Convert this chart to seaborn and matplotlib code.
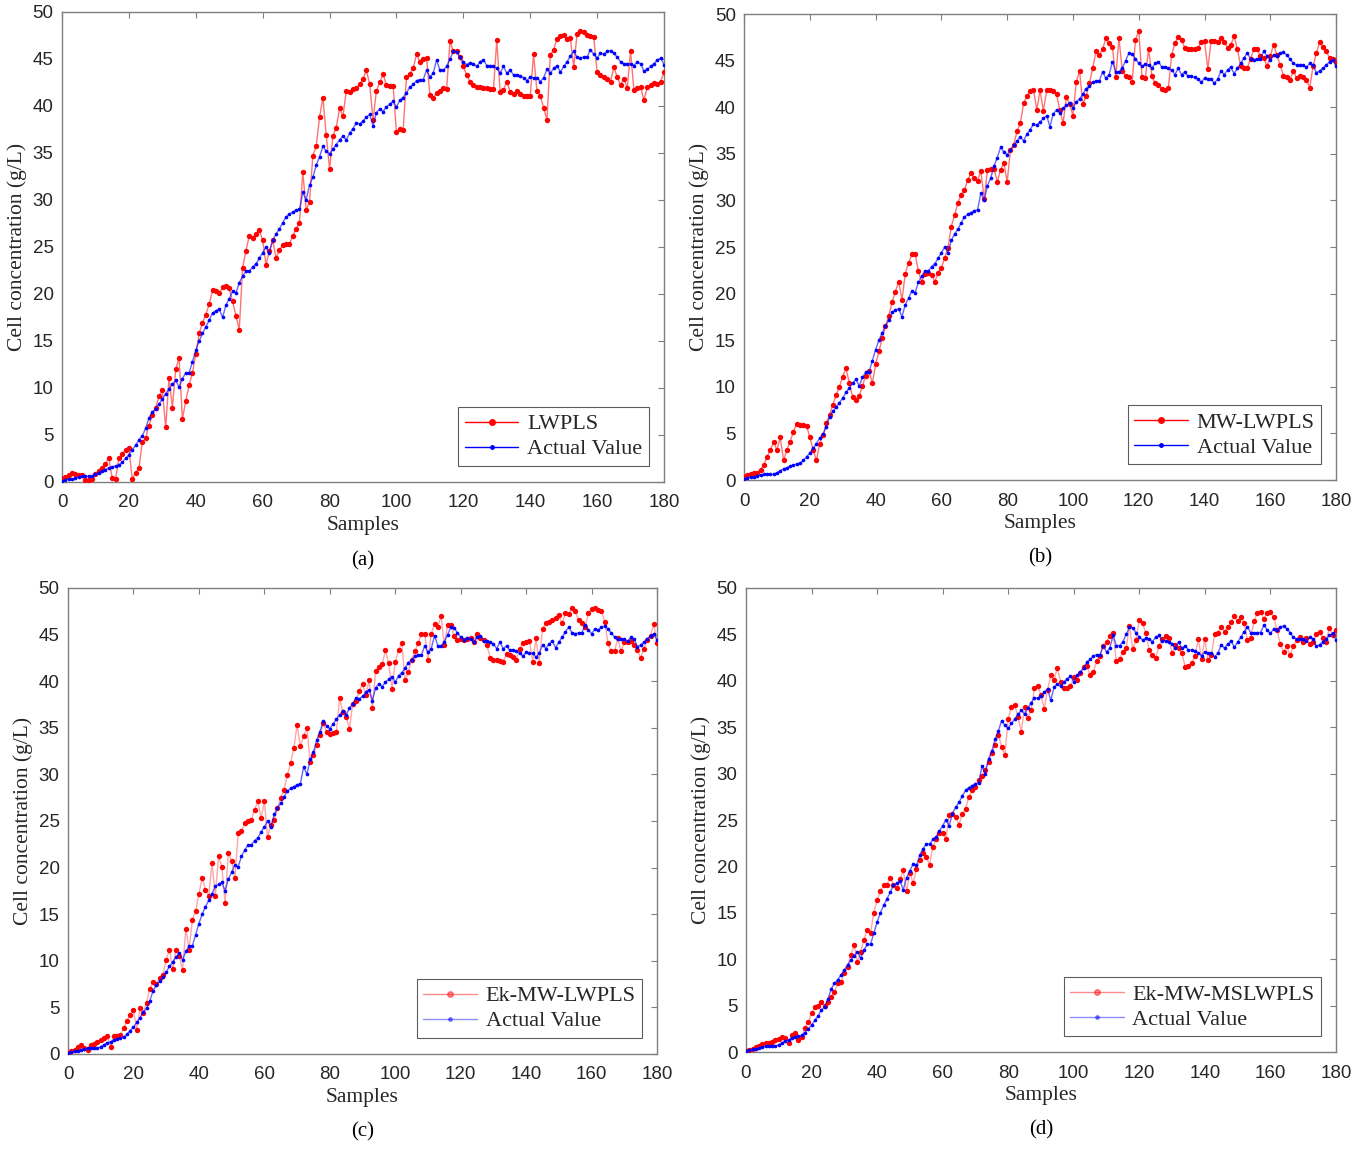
import numpy as np
import pandas as pd
import matplotlib
matplotlib.use("Agg")
import matplotlib.pyplot as plt
from matplotlib.lines import Line2D
import seaborn as sns

# Measured cell concentration (g/L), samples 0..180
actual = [
    0.1, 0.2, 0.3, 0.3, 0.4, 0.5, 0.6, 0.6, 0.6, 0.6,
    0.8, 1.0, 1.2, 1.3, 1.5, 1.6, 1.7, 1.8, 2.1, 2.5,
    2.9, 3.4, 3.9, 4.5, 4.9, 5.7, 6.8, 7.4, 7.8, 8.3,
    8.8, 9.4, 9.9, 10.4, 10.8, 10.1, 11.0, 11.6, 11.6, 12.8,
    14.0, 15.0, 15.8, 16.5, 17.2, 18.0, 18.2, 18.4, 17.5, 18.8,
    19.5, 20.3, 20.1, 21.2, 21.9, 22.4, 22.4, 22.9, 23.2, 23.8,
    24.4, 25.0, 24.4, 25.7, 26.4, 26.9, 27.6, 28.2, 28.5, 28.7,
    28.9, 29.0, 30.8, 30.0, 31.6, 32.4, 33.7, 34.6, 35.7, 35.2,
    34.9, 35.4, 35.9, 36.4, 36.8, 36.4, 37.1, 37.6, 38.2, 38.1,
    38.4, 38.8, 39.1, 37.9, 39.3, 39.7, 39.4, 39.9, 40.2, 40.5,
    39.9, 40.6, 40.9, 41.4, 42.0, 42.3, 42.7, 42.8, 42.8, 43.8,
    43.1, 43.5, 44.9, 43.8, 43.8, 44.2, 45.0, 45.8, 45.7, 45.2,
    44.7, 44.4, 44.6, 44.5, 44.2, 44.7, 44.9, 44.3, 44.3, 44.2,
    44.0, 43.5, 44.2, 43.5, 43.8, 43.3, 43.3, 43.2, 43.0, 42.7,
    43.1, 43.0, 43.0, 42.6, 43.0, 43.9, 43.5, 44.0, 44.3, 43.6,
    44.2, 44.7, 45.3, 45.8, 45.2, 45.1, 45.2, 45.2, 46.0, 45.5,
    45.1, 45.6, 45.5, 45.8, 45.9, 45.6, 45.2, 44.7, 44.5, 44.5,
    44.5, 44.3, 44.7, 44.5, 43.7, 43.9, 44.2, 44.5, 44.9, 45.1,
    44.4,
]

# LWPLS predictions
pred_lwpls = [
    0.3, 0.5, 0.7, 1.0, 0.8, 0.7, 0.7, 0.2, 0.2, 0.3,
    0.9, 1.2, 1.5, 1.9, 2.6, 0.4, 0.3, 2.5, 3.0, 3.4,
    3.6, 0.3, 1.0, 1.5, 4.2, 4.7, 6.0, 7.1, 7.9, 9.1,
    9.8, 5.8, 11.1, 7.9, 12.0, 13.2, 6.7, 8.6, 10.3, 11.6,
    13.6, 15.8, 16.9, 17.8, 18.9, 20.4, 20.3, 20.1, 20.7, 20.9,
    20.6, 19.2, 17.7, 16.2, 22.8, 24.6, 26.2, 26.0, 26.4, 26.8,
    25.7, 23.1, 24.6, 25.7, 23.8, 24.7, 25.2, 25.3, 25.3, 26.2,
    26.9, 27.6, 33.0, 28.9, 29.8, 34.7, 35.7, 38.8, 40.9, 36.9,
    33.3, 36.8, 37.7, 39.8, 38.9, 41.6, 41.5, 41.8, 41.9, 42.3,
    42.9, 43.8, 42.3, 38.5, 41.6, 42.5, 43.4, 42.2, 42.1, 42.1,
    37.2, 37.6, 37.4, 43.1, 43.4, 44.0, 45.5, 44.7, 45.0, 45.1,
    41.2, 40.8, 41.4, 41.6, 41.9, 41.8, 46.9, 45.8, 45.8, 45.2,
    44.2, 43.3, 42.6, 42.2, 42.0, 42.0, 41.9, 41.9, 41.8, 41.8,
    47.0, 41.5, 41.7, 42.6, 41.5, 41.3, 41.6, 41.3, 41.1, 41.1,
    41.1, 45.5, 41.6, 41.1, 39.8, 38.5, 45.4, 46.0, 47.1, 47.4,
    47.5, 47.1, 47.2, 44.1, 47.7, 48.0, 47.9, 47.6, 47.4, 47.3,
    43.6, 43.3, 43.1, 42.9, 42.6, 44.1, 43.1, 42.2, 42.9, 41.9,
    45.8, 41.7, 41.9, 42.0, 40.6, 42.0, 42.2, 42.4, 42.3, 42.6,
    43.6,
]

# MW-LWPLS predictions
pred_mw_lwpls = [
    0.3, 0.5, 0.6, 0.7, 0.8, 1.1, 1.6, 2.5, 3.2, 4.1,
    3.2, 4.6, 2.1, 3.2, 4.1, 5.2, 6.0, 5.9, 5.9, 5.8,
    4.6, 3.2, 2.1, 3.9, 4.8, 6.1, 7.0, 8.1, 9.1, 10.0,
    11.1, 12.0, 10.4, 8.9, 8.6, 9.0, 10.1, 11.2, 11.7, 10.4,
    12.4, 13.8, 15.2, 16.5, 17.6, 19.1, 20.2, 21.3, 19.3, 22.1,
    23.3, 24.2, 24.3, 22.4, 21.3, 22.1, 22.2, 22.0, 21.3, 22.2,
    22.8, 23.8, 24.9, 27.2, 28.4, 29.7, 30.6, 31.1, 32.2, 32.9,
    32.4, 32.1, 33.2, 30.1, 33.3, 33.4, 33.4, 32.0, 33.3, 34.0,
    32.0, 35.4, 36.0, 37.4, 38.3, 40.4, 41.2, 41.7, 41.9, 39.7,
    41.8, 39.6, 41.8, 41.8, 41.7, 41.4, 39.7, 38.3, 41.1, 40.3,
    39.1, 42.7, 43.9, 40.3, 41.2, 42.6, 44.2, 46.0, 45.6, 46.2,
    47.4, 46.9, 46.5, 43.2, 47.4, 43.9, 43.4, 43.2, 42.7, 47.2,
    48.2, 43.2, 43.1, 46.3, 43.3, 42.6, 42.4, 42.0, 41.9, 42.1,
    45.6, 46.9, 47.5, 47.2, 46.4, 46.3, 46.3, 46.3, 46.4, 47.0,
    47.1, 44.1, 47.1, 47.1, 47.0, 47.4, 47.0, 46.4, 46.7, 47.6,
    46.2, 44.4, 44.2, 44.2, 45.2, 46.2, 46.2, 45.5, 45.3, 44.4,
    45.5, 46.7, 45.6, 44.5, 43.4, 43.2, 42.9, 43.9, 43.1, 43.4,
    43.2, 42.9, 42.1, 44.4, 45.8, 47.0, 46.5, 46.0, 45.3, 45.2,
    44.8,
]

# Ek-MW-LWPLS predictions
pred_ek_mw_lwpls = [
    0.1, 0.3, 0.4, 0.7, 1.0, 0.6, 0.4, 1.0, 1.1, 1.3,
    1.5, 1.7, 1.9, 0.8, 1.9, 1.9, 2.0, 2.8, 3.5, 4.2,
    4.7, 2.6, 4.9, 4.4, 5.5, 7.0, 7.7, 7.5, 8.1, 8.5,
    10.1, 11.2, 9.1, 11.2, 10.5, 9.0, 13.4, 11.2, 14.4, 15.3,
    17.2, 18.9, 17.6, 17.0, 20.5, 17.0, 21.2, 20.1, 16.2, 21.6,
    20.7, 18.9, 23.7, 23.9, 24.8, 25.0, 25.1, 26.2, 27.1, 25.3,
    27.1, 23.3, 24.6, 25.1, 26.4, 27.5, 28.3, 29.9, 31.2, 32.8,
    35.3, 33.0, 34.1, 35.0, 31.3, 32.1, 33.2, 34.2, 35.5, 34.6,
    34.3, 34.4, 34.5, 38.2, 36.7, 36.2, 34.9, 37.6, 37.9, 38.9,
    39.7, 38.5, 40.1, 37.1, 41.1, 41.5, 41.8, 43.3, 41.9, 39.2,
    42.1, 43.3, 44.1, 40.1, 41.0, 42.3, 43.2, 44.1, 45.1, 45.1,
    42.3, 45.1, 46.1, 45.8, 47.0, 43.9, 46.0, 46.0, 44.8, 44.4,
    44.5, 44.4, 44.5, 44.6, 44.2, 45.1, 44.6, 44.4, 43.9, 42.5,
    42.3, 42.3, 42.2, 42.1, 42.9, 42.8, 42.6, 42.3, 43.5, 44.1,
    44.2, 44.3, 42.1, 44.6, 42.0, 45.6, 46.2, 46.3, 46.6, 46.8,
    47.1, 46.2, 47.3, 47.2, 47.8, 47.5, 46.6, 46.2, 45.8, 47.3,
    47.7, 47.8, 47.6, 47.5, 46.4, 44.1, 43.2, 43.2, 44.6, 43.2,
    44.2, 44.2, 44.3, 43.9, 43.3, 42.5, 43.5, 44.4, 44.9, 46.1,
    44.1,
]

# Ek-MW-MSLWPLS predictions
pred_ek_mw_mslwpls = [
    0.1, 0.2, 0.3, 0.5, 0.7, 0.9, 1.0, 1.0, 1.1, 1.3,
    1.4, 1.6, 1.5, 1.0, 1.8, 2.1, 1.3, 1.6, 2.6, 3.2,
    4.2, 4.9, 5.0, 5.4, 5.0, 5.4, 5.9, 6.5, 7.4, 7.5,
    8.5, 9.2, 10.5, 11.5, 9.7, 10.8, 12.1, 13.2, 12.8, 15.0,
    16.4, 17.3, 18.0, 18.0, 18.8, 18.0, 17.7, 18.6, 19.6, 17.3,
    19.3, 18.2, 19.7, 20.7, 21.4, 21.0, 20.2, 22.1, 22.9, 23.6,
    23.6, 23.0, 25.5, 25.7, 25.3, 24.5, 25.7, 26.2, 27.5, 28.2,
    28.6, 29.3, 29.7, 30.4, 31.3, 32.2, 33.1, 34.2, 32.9, 32.0,
    35.9, 37.2, 37.4, 36.1, 34.5, 37.2, 36.0, 36.9, 39.2, 39.4,
    38.5, 37.0, 39.0, 40.6, 40.1, 41.4, 39.9, 39.2, 39.2, 39.4,
    40.4, 40.1, 40.8, 41.5, 41.6, 40.6, 41.0, 42.1, 42.7, 43.7,
    44.2, 44.8, 45.2, 42.1, 42.3, 43.1, 43.5, 45.9, 43.4, 44.4,
    46.6, 46.2, 45.1, 43.3, 42.8, 42.5, 43.7, 44.5, 44.8, 44.6,
    43.0, 43.9, 43.5, 43.0, 41.5, 41.6, 41.9, 42.7, 44.5, 42.4,
    44.5, 42.2, 42.8, 45.0, 45.2, 45.8, 45.3, 45.8, 46.3, 47.0,
    46.4, 46.9, 46.2, 44.4, 44.6, 46.4, 47.3, 47.4, 46.7, 47.3,
    47.4, 46.9, 45.5, 44.0, 43.1, 43.7, 42.8, 43.7, 44.4, 44.7,
    44.2, 44.6, 44.0, 44.2, 45.0, 45.3, 44.6, 44.2, 45.7, 44.9,
    45.5,
]

model_names = ["LWPLS", "MW-LWPLS", "Ek-MW-LWPLS", "Ek-MW-MSLWPLS"]
panel_tags = ["(a)", "(b)", "(c)", "(d)"]
predictions = [pred_lwpls, pred_mw_lwpls, pred_ek_mw_lwpls, pred_ek_mw_mslwpls]
x_ticks = list(range(0, 181, 20))
y_ticks = list(range(0, 51, 5))

sns.set_theme(style="white")
plt.rcParams["font.family"] = ["Liberation Sans", "DejaVu Sans"]
plt.rcParams["xtick.direction"] = "in"
plt.rcParams["ytick.direction"] = "in"

SERIF = ["Liberation Serif", "DejaVu Serif"]
RED = "#ff0000"
BLUE = "#0000ff"
GRAY = "#7f7f7f"
TXT = "#262626"

fig = plt.figure(figsize=(13.66, 11.5), dpi=100)

# axes rectangles in figure fractions: left, bottom, width, height
rects = [
    [0.0454, 0.5809, 0.4407, 0.4087],
    [0.5447, 0.5826, 0.4334, 0.4052],
    [0.0498, 0.0835, 0.4312, 0.4052],
    [0.5461, 0.0852, 0.4319, 0.4035],
]
legend_alpha = [1.0, 1.0, 0.45, 0.45]

for i in range(4):
    ax = fig.add_axes(rects[i])
    df = pd.DataFrame({
        "Samples": np.arange(len(actual)),
        "pred": predictions[i],
        "actual": actual,
    })
    line_alpha = 0.55 if i < 2 else 0.35
    sns.lineplot(data=df, x="Samples", y="pred", ax=ax, color=RED,
                 linewidth=1.0, alpha=line_alpha, legend=False)
    sns.scatterplot(data=df, x="Samples", y="pred", ax=ax, color=RED,
                    s=15, linewidth=0, legend=False, zorder=3)
    sns.lineplot(data=df, x="Samples", y="actual", ax=ax, color=BLUE,
                 linewidth=1.0, alpha=0.6, legend=False, zorder=4)
    sns.scatterplot(data=df, x="Samples", y="actual", ax=ax, color=BLUE,
                    s=7, linewidth=0, legend=False, zorder=5)

    ax.set_xlim(0, 180)
    ax.set_ylim(0, 50)
    ax.set_xticks(x_ticks)
    ax.set_yticks(y_ticks)
    ax.tick_params(axis="both", which="both", direction="in", length=4,
                   width=0.8, color=GRAY, labelcolor=TXT, labelsize=13.5,
                   top=True, right=True)
    ax.tick_params(axis="x", pad=9)
    ax.tick_params(axis="y", pad=6)
    for sp in ax.spines.values():
        sp.set_visible(True)
        sp.set_color(GRAY)
        sp.set_linewidth(1.0)
    ax.set_xlabel("Samples", family=SERIF, fontsize=15.5, color=TXT, labelpad=3)
    ax.set_ylabel("Cell concentration (g/L)", family=SERIF, fontsize=15.5,
                  color=TXT, labelpad=4)
    ax.text(0.5, -0.168, panel_tags[i], transform=ax.transAxes, ha="center",
            va="center", family=SERIF, fontsize=15, color="black")

    la = legend_alpha[i]
    handles = [
        Line2D([0], [0], color=RED, alpha=la, linewidth=1.0, marker=".",
               markersize=8, markerfacecolor=RED, markeredgecolor=RED),
        Line2D([0], [0], color=BLUE, alpha=la, linewidth=1.0, marker=".",
               markersize=5, markerfacecolor=BLUE, markeredgecolor=BLUE),
    ]
    leg = ax.legend(handles, [model_names[i], "Actual Value"], loc="lower right",
                    bbox_to_anchor=(0.975, 0.034), frameon=True, fancybox=False,
                    prop={"family": SERIF, "size": 16}, handlelength=2.4,
                    handletextpad=0.4, borderpad=0.3, labelspacing=0.2,
                    borderaxespad=0.0)
    leg.get_frame().set_edgecolor("#333333")
    leg.get_frame().set_linewidth(0.8)
    for t in leg.get_texts():
        t.set_color(TXT)

fig.savefig("out.png", dpi=100, facecolor="white")
